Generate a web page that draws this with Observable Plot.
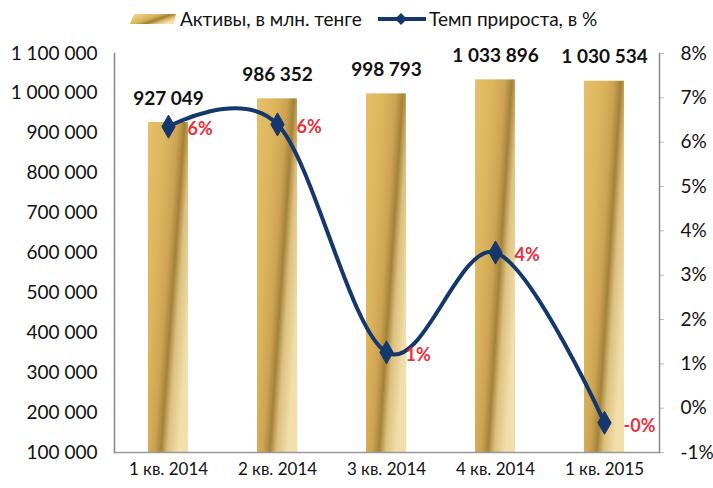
<!DOCTYPE html>
<html><head><meta charset="utf-8">
<script src="https://cdn.jsdelivr.net/npm/d3@7"></script>
<script src="https://cdn.jsdelivr.net/npm/@observablehq/plot@0.6"></script>
<style>
body{margin:0;background:#fff;font-family:Lato,"Open Sans",sans-serif;}
#legend{position:relative;height:40px;width:713px;font-size:19px;color:#111;}
#legend .item{position:absolute;top:7px;display:flex;align-items:center;white-space:nowrap;}
#chart svg{display:block;}
</style></head><body>
<div id="legend">
  <div class="item" style="left:128px;">
    <svg width="48" height="12" style="margin-right:4px">
      <defs><linearGradient id="legGold" x1="0" y1="0" x2="1" y2="0.6">
        <stop offset="0" stop-color="#f3dc9c"/><stop offset="0.5" stop-color="#d9b258"/>
        <stop offset="0.68" stop-color="#a47f2e"/><stop offset="0.85" stop-color="#e2c27a"/>
        <stop offset="1" stop-color="#f6e3ae"/></linearGradient></defs>
      <polygon points="2,11 46,11 48,1 6,1" fill="url(#legGold)"/>
    </svg>
    <span>Активы, в млн. тенге</span>
  </div>
  <div class="item" style="left:377px;">
    <svg width="50" height="14" style="margin-right:2px">
      <line x1="1" y1="7" x2="49" y2="7" stroke="#14386b" stroke-width="4"/>
      <polygon points="24,1 30,7 24,13 18,7" fill="#14386b"/>
    </svg>
    <span>Темп прироста, в %</span>
  </div>
</div>
<div id="chart"></div>
<script>
const quarters = ["1 кв. 2014","2 кв. 2014","3 кв. 2014","4 кв. 2014","1 кв. 2015"];
const assets = [927049, 986352, 998793, 1033896, 1030534];
const assetLabels = ["927 049","986 352","998 793","1 033 896","1 030 534"];
const growth = [6.35, 6.40, 1.26, 3.51, -0.33];
const growthLabels = ["6%","6%","1%","4%","-0%"];
const leftTicks = [100000,200000,300000,400000,500000,600000,700000,800000,900000,1000000,1100000];
const rightTicks = [-1,0,1,2,3,4,5,6,7,8];

const leftMin = 100000, leftMax = 1100000, rightMin = -1, rightMax = 8;
const pctToLeft = p => leftMin + (p - rightMin) * (leftMax - leftMin) / (rightMax - rightMin);
const fmt = d3.formatLocale({thousands:" ", grouping:[3], decimal:",", currency:["",""]}).format(",");

const data = quarters.map((q,i)=>({q, assets:assets[i], aLabel:assetLabels[i], g:pctToLeft(growth[i]), gLabel:growthLabels[i]}));

const chart = Plot.plot({
  width: 713, height: 448,
  marginTop: 13, marginBottom: 36, marginLeft: 114, marginRight: 54,
  style: {fontFamily: "Lato, 'Open Sans', sans-serif", fontSize: "18px", color: "#111", background: "#fff"},
  x: {domain: quarters, paddingInner: 0.63, paddingOuter: 0.315, label: null},
  y: {domain: [leftMin, leftMax], label: null},
  marks: [
    Plot.barY(data, {x: "q", y1: leftMin, y2: "assets", fill: "url(#goldGrad)"}),
    Plot.axisY(leftTicks, {anchor: "left", tickSize: 0, tickPadding: 17, tickFormat: fmt, fontSize: 19, label: null}),
    Plot.axisY(rightTicks.map(pctToLeft), {anchor: "right", tickSize: 4, tickPadding: 17, stroke: "#bbb",
      tickFormat: (d) => `${Math.round((d - leftMin) * (rightMax - rightMin) / (leftMax - leftMin) + rightMin)}%`, fontSize: 19, label: null}),
    Plot.axisX({tickSize: 0, tickPadding: 10, fontSize: 17, label: null}),
    Plot.frame({anchor: "left", stroke: "#888", strokeWidth: 1.5}),
    Plot.frame({anchor: "right", stroke: "#888", strokeWidth: 1.5}),
    Plot.frame({anchor: "bottom", stroke: "#999", strokeWidth: 1.5}),
    Plot.line(data, {x: "q", y: "g", stroke: "#14386b", strokeWidth: 4, curve: "cardinal"}),
    Plot.dot(data, {x: "q", y: "g", symbol: "diamond", r: 7, fill: "#14386b", stroke: "#14386b", strokeWidth: 1}),
    Plot.text(data, {x: "q", y: "g", text: "gLabel", textAnchor: "start", dx: 19, dy: 3, fill: "#e8313c", fontWeight: "bold", fontSize: 18}),
    Plot.text(data, {x: "q", y: "assets", text: "aLabel", dy: -24, fill: "#111", fontWeight: "bold", fontSize: 19})
  ]
});

const ns = "http://www.w3.org/2000/svg";
const defs = document.createElementNS(ns, "defs");
defs.innerHTML = `<linearGradient id="goldGrad" x1="0" y1="0" x2="1" y2="0.6">
  <stop offset="0" stop-color="#e6c06a"/>
  <stop offset="0.35" stop-color="#dcb45c"/>
  <stop offset="0.55" stop-color="#cda353"/>
  <stop offset="0.68" stop-color="#a58239"/>
  <stop offset="0.8" stop-color="#dcc07e"/>
  <stop offset="1" stop-color="#f1deaa"/>
</linearGradient>`;
chart.insertBefore(defs, chart.firstChild);
document.getElementById("chart").appendChild(chart);
</script>
</body></html>
